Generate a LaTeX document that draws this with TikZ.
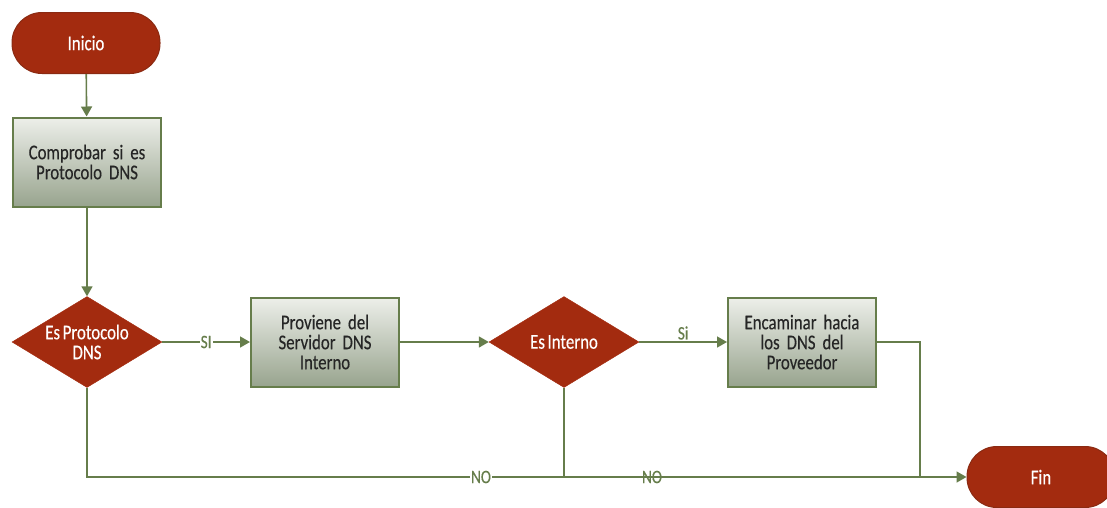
\documentclass[tikz,border=0pt]{standalone}
\usepackage{fontspec}
\setmainfont{Carlito}[FakeStretch=0.8, FakeBold=0.3, WordSpace=0.7]
\usetikzlibrary{shapes.geometric,arrows.meta}
\definecolor{rust}{HTML}{A32B0F}
\definecolor{rustdark}{HTML}{8A2A12}
\definecolor{olive}{HTML}{667D4B}
\definecolor{boxtop}{HTML}{EDEFEA}
\definecolor{boxbot}{HTML}{98A48E}
\begin{document}
\begin{tikzpicture}[x=1pt,y=-1pt,
  terminal/.style={rectangle, rounded corners=30pt, fill=rust, draw=rustdark,
    line width=1pt, minimum width=148pt, minimum height=61pt, text=white,
    font=\fontsize{21}{24}\selectfont},
  process/.style={rectangle, draw=olive, line width=2pt, top color=boxtop,
    bottom color=boxbot, minimum width=148pt, minimum height=89pt,
    align=center, text width=138pt, text=black!85,
    font=\fontsize{21}{20}\selectfont},
  decision/.style={diamond, fill=rust, draw=rust, inner sep=0pt,
    minimum width=150pt, minimum height=91pt},
  dtext/.style={text=white, align=center, font=\fontsize{21}{20}\selectfont},
  conn/.style={draw=olive, line width=1.6pt,
    -{Triangle[width=11pt,length=10pt]}},
  plain/.style={draw=olive, line width=1.6pt},
  lbl/.style={text=olive, inner sep=1pt, font=\fontsize{19}{20}\selectfont}]

\useasboundingbox (0,0) rectangle (1107,507);

% nodes
\node[terminal] (inicio) at (86,43) {Inicio};
\node[process] (comp) at (87,162) {Comprobar si es\\Protocolo DNS};
\node[decision, label={[dtext]center:Es Protocolo\\DNS}] (d1) at (87,342) {};
\node[process] (prov) at (325,342) {Proviene del\\Servidor DNS\\Interno};
\node[decision, label={[dtext]center:Es Interno}] (d2) at (564,342) {};
\node[process] (enc) at (802,342) {Encaminar hacia\\los DNS del\\Proveedor};
\node[terminal] (fin) at (1041,477) {Fin};
\coordinate (join) at (920,477);

% connectors
\draw[conn] (inicio) -- (comp);
\draw[conn] (comp) -- (d1);
\draw[conn] (d1) -- node[lbl, fill=white] (si1) {SI} (prov);
\draw[conn] (prov) -- (d2);
\draw[conn] (d2) -- node[lbl, fill=white, yshift=9pt] (si2) {Si} (enc);
\draw[conn] (d1.south) |- (fin.west);
\draw[plain] (d2.south) -- (d2.south |- fin.west);
\draw[plain] (enc.east) -| (join);

% branch labels on the bottom line
\node[lbl, fill=white] (no1) at (481,477) {NO};
\node[lbl] (no2) at (652,477) {NO};
\end{tikzpicture}
\end{document}
